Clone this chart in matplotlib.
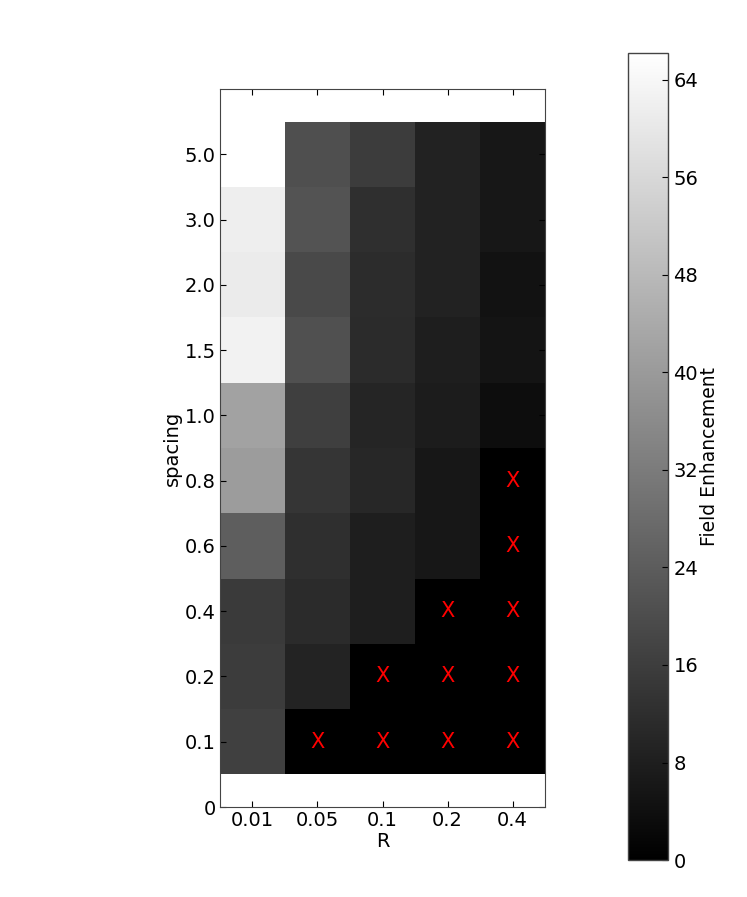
import numpy as np
import matplotlib
matplotlib.use("Agg")
import matplotlib.pyplot as plt

R_labels = ["0.01", "0.05", "0.1", "0.2", "0.4"]
spacing_labels = ["0.1", "0.2", "0.4", "0.6", "0.8", "1.0", "1.5", "2.0", "3.0", "5.0"]

# Field enhancement per R column, listed from spacing 0.1 up to 5.0 (nan = no data)
fe_R001 = [16.6, 15.6, 15.1, 24.4, 40.5, 42.1, 62.6, 61.0, 61.8, np.nan]
fe_R005 = [0.0, 9.1, 11.2, 12.2, 13.8, 16.4, 20.8, 19.0, 21.5, 20.5]
fe_R01 = [0.0, 0.0, 7.8, 7.8, 10.1, 9.6, 11.2, 11.4, 12.2, 15.6]
fe_R02 = [0.0, 0.0, 0.0, 6.0, 6.0, 7.3, 7.8, 8.8, 8.8, 8.8]
fe_R04 = [0.0, 0.0, 0.0, 0.0, 0.0, 3.6, 5.2, 4.9, 6.0, 6.2]
vmax = 66.2

data = np.array([fe_R001, fe_R005, fe_R01, fe_R02, fe_R04]).T  # rows = spacing
masked = np.ma.masked_invalid(data)

fig = plt.figure(figsize=(7.47, 8.97), dpi=100)
ax = fig.add_axes([0.2945, 0.1003, 0.4351, 0.8005])
cax = fig.add_axes([0.8407, 0.0412, 0.0535, 0.8997])

nx, ny = len(R_labels), len(spacing_labels)
xe = np.arange(nx + 1) + 0.5
ye = np.arange(ny + 1) + 0.5
mesh = ax.pcolormesh(xe, ye, masked, cmap="gray", vmin=0, vmax=vmax, antialiased=False)

for j in range(ny):
    for i in range(nx):
        if data[j, i] == 0:
            ax.text(i + 1, j + 1, "X", color="red", ha="center", va="center", fontsize=15)

ax.set_xlim(0.5, nx + 0.5)
ax.set_ylim(0, ny + 1)
ax.set_xticks(np.arange(1, nx + 1))
ax.set_xticklabels(R_labels)
ax.set_yticks(np.arange(0, ny + 1))
ax.set_yticklabels(["0"] + spacing_labels)
ax.tick_params(direction="in", top=True, right=True, labelsize=14, length=4, pad=3)
ax.set_xlabel("R", fontsize=14, labelpad=1)
ax.set_ylabel("spacing", fontsize=14, labelpad=2)
for s in ax.spines.values():
    s.set_color("#444444")

cb = fig.colorbar(mesh, cax=cax, ticks=np.arange(0, 65, 8))
cb.ax.tick_params(direction="in", labelsize=14, length=4, pad=4)
cb.set_label("Field Enhancement", fontsize=13.5, labelpad=1)
cb.outline.set_linewidth(1)
cb.outline.set_edgecolor("#444444")

fig.savefig("out.png", dpi=100)
